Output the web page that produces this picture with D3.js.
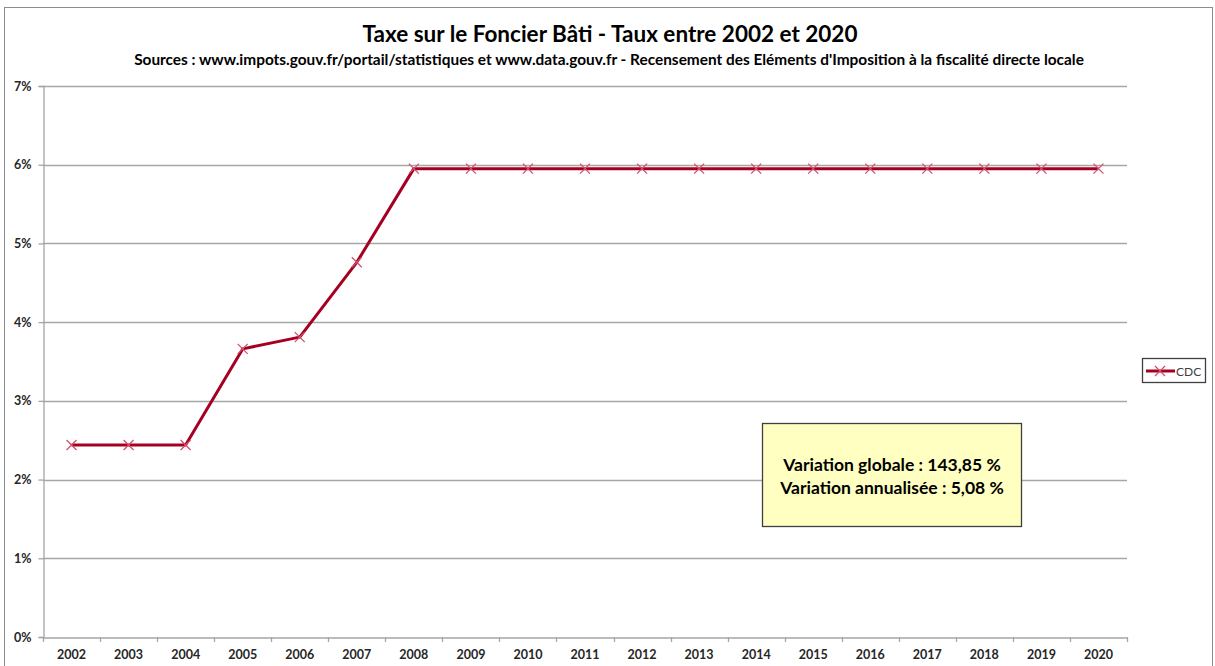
<!DOCTYPE html>
<html><head><meta charset="utf-8">
<script src="https://cdn.jsdelivr.net/npm/d3@7"></script>
<style>body{margin:0;background:#fff;}svg{display:block;font-family:Lato,"Open Sans",sans-serif;}</style>
</head><body>
<svg id="c" width="1215" height="666"></svg>
<script>
const years = ["2002","2003","2004","2005","2006","2007","2008","2009","2010","2011","2012","2013","2014","2015","2016","2017","2018","2019","2020"];
const cdcValues = [2.44,2.44,2.44,3.66,3.81,4.76,5.95,5.95,5.95,5.95,5.95,5.95,5.95,5.95,5.95,5.95,5.95,5.95,5.95];
const yTicks = [0,1,2,3,4,5,6,7];
const seriesName = "CDC";
const titleText = "Taxe sur le Foncier Bâti - Taux entre 2002 et 2020";
const subtitleText = "Sources : www.impots.gouv.fr/portail/statistiques et www.data.gouv.fr - Recensement des Eléments d'Imposition à la fiscalité directe locale";
const noteLines = ["Variation globale : 143,85 %","Variation annualisée : 5,08 %"];

const svg = d3.select("#c");
const L=43,R=1127,T=86,B=637;
const lineColor="#A50021", markColor="#D2506E", gridColor="#A6A6A6";

// outer border
svg.append("rect").attr("x",4.5).attr("y",7.5).attr("width",1208).attr("height",670).attr("fill","#fff").attr("stroke","#8C8C8C").attr("stroke-width",1);

const x = d3.scaleBand().domain(years).range([L,R]).padding(0);
const y = d3.scaleLinear().domain([0,7]).range([B,T]);

// grid
svg.append("g").selectAll("line").data(yTicks.filter(d=>d>0)).join("line")
  .attr("x1",L).attr("x2",R).attr("y1",d=>Math.round(y(d))+0.5).attr("y2",d=>Math.round(y(d))+0.5)
  .attr("stroke",gridColor).attr("stroke-width",1.3);

// y axis
const yAxis = svg.append("g").attr("transform",`translate(${L+0.5},0)`)
  .call(d3.axisLeft(y).tickValues(yTicks).tickSize(5).tickFormat(d=>d+"%"));
yAxis.select(".domain").attr("stroke",gridColor).attr("stroke-width",1.3);
yAxis.selectAll(".tick line").attr("stroke",gridColor).attr("stroke-width",1.3);
yAxis.selectAll(".tick text").attr("font-size",12.5).attr("font-weight","bold").attr("fill","#262626").attr("x",-12)
  .attr("font-family","Lato, sans-serif");

// x axis
const xAxis = svg.append("g").attr("transform",`translate(0,${B+0.5})`)
  .call(d3.axisBottom(x).tickSize(0).tickSizeOuter(0));
xAxis.select(".domain").attr("stroke",gridColor).attr("stroke-width",1.3);
xAxis.selectAll(".tick text").attr("font-size",12.5).attr("font-weight","bold").attr("fill","#262626").attr("y",13)
  .attr("font-family","Lato, sans-serif");
// tick marks at category boundaries
svg.append("g").selectAll("line").data(years.concat(["end"])).join("line")
  .attr("x1",(d,i)=>Math.round(L+i*x.bandwidth())+0.5).attr("x2",(d,i)=>Math.round(L+i*x.bandwidth())+0.5)
  .attr("y1",B).attr("y2",B+5).attr("stroke",gridColor).attr("stroke-width",1.3);

// line
const cx = d=>x(d)+x.bandwidth()/2;
const line = d3.line().x((d,i)=>cx(years[i])).y(d=>y(d));
svg.append("path").datum(cdcValues).attr("d",line).attr("fill","none").attr("stroke",lineColor).attr("stroke-width",3).attr("stroke-linejoin","round");

// markers
const m=5;
const mk = svg.append("g").selectAll("g").data(cdcValues).join("g")
  .attr("transform",(d,i)=>`translate(${cx(years[i])},${y(d)})`);
mk.append("path").attr("d",`M${-m},${-m}L${m},${m}M${-m},${m}L${m},${-m}`).attr("stroke",markColor).attr("stroke-width",1.3).attr("fill","none");

// titles
svg.append("text").attr("x",610).attr("y",42).attr("text-anchor","middle").attr("font-size",22.5).attr("font-weight","bold").attr("fill","#000").text(titleText);
svg.append("text").attr("x",609).attr("y",65).attr("text-anchor","middle").attr("font-size",15.4).attr("font-weight","bold").attr("fill","#000").text(subtitleText);

// legend
svg.append("rect").attr("x",1142.5).attr("y",358.5).attr("width",63).attr("height",24).attr("fill","#fff").attr("stroke","#404040").attr("stroke-width",1.3);
svg.append("line").attr("x1",1146).attr("x2",1175).attr("y1",371).attr("y2",371).attr("stroke",lineColor).attr("stroke-width",3);
svg.append("path").attr("d",`M${1160-m},${371-m}L${1160+m},${371+m}M${1160-m},${371+m}L${1160+m},${371-m}`).attr("stroke",markColor).attr("stroke-width",1.3);
svg.append("text").attr("x",1176).attr("y",375.5).attr("font-size",12).attr("fill","#404040").text(seriesName);

// annotation
svg.append("rect").attr("x",762.5).attr("y",423.5).attr("width",259).attr("height",103).attr("fill","#FFFFC1").attr("stroke","#404040").attr("stroke-width",1.3);
svg.append("g").selectAll("text").data(noteLines).join("text")
  .attr("x",892).attr("y",(d,i)=>471+i*23).attr("text-anchor","middle").attr("font-size",17.5).attr("font-weight","bold").attr("fill","#000").text(d=>d);
</script>
</body></html>
